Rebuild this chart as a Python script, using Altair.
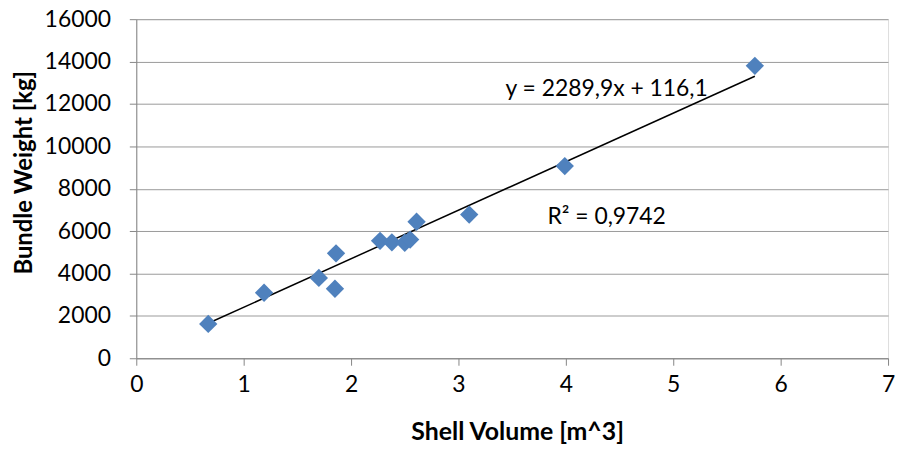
import altair as alt
import pandas as pd

# Data
shell_volume = [0.67, 1.19, 1.70, 1.85, 1.86, 2.27, 2.38, 2.50, 2.55, 2.61, 3.10, 3.99, 5.76]
bundle_weight = [1620, 3090, 3790, 3280, 4950, 5540, 5470, 5450, 5600, 6440, 6780, 9070, 13800]

slope = 2289.9
intercept = 116.1
eq_labels = ["y = 2289,9x + 116,1", "R² = 0,9742"]
eq_x = [4.38, 4.38]
eq_y = [12700, 6650]

x_ticks = [0, 1, 2, 3, 4, 5, 6, 7]
y_ticks = [0, 2000, 4000, 6000, 8000, 10000, 12000, 14000, 16000]

FONT = "Lato"

df = pd.DataFrame({"x": shell_volume, "y": bundle_weight})
xmin, xmax = min(shell_volume), max(shell_volume)
trend = pd.DataFrame({"x": [xmin, xmax], "y": [slope * xmin + intercept, slope * xmax + intercept]})
labels = pd.DataFrame({"x": eq_x, "y": eq_y, "t": eq_labels})

xscale = alt.Scale(domain=[0, 7], nice=False, zero=True)
yscale = alt.Scale(domain=[0, 16000], nice=False)

xaxis = alt.Axis(title="Shell Volume [m^3]", values=x_ticks, format="d", grid=False, tickSize=7,
                 labelFontSize=23, titleFontSize=25, titleFontWeight="bold",
                 labelFont=FONT, titleFont=FONT, labelColor="#000000", titleColor="#000000",
                 domainColor="#868686", tickColor="#868686", labelPadding=8,
                 titleX=383, titleY=74, titleBaseline="middle", titleAlign="center",
                 labelFlush=False)
yaxis = alt.Axis(title="Bundle Weight [kg]", values=y_ticks, format="d", grid=True, gridColor="#9a9a9a",
                 tickSize=7, labelFontSize=23, titleFontSize=24, titleFontWeight="bold",
                 labelFont=FONT, titleFont=FONT, labelColor="#000000", titleColor="#000000",
                 domainColor="#868686", tickColor="#868686", labelPadding=19,
                 titleX=-112, titleY=154, titleBaseline="middle", titleAlign="center",
                 labelFlush=False)

points = alt.Chart(df).mark_point(shape="diamond", filled=True, size=340, color="#4F81BD", opacity=1).encode(
    x=alt.X("x:Q", scale=xscale, axis=xaxis),
    y=alt.Y("y:Q", scale=yscale, axis=yaxis),
)

line = alt.Chart(trend).mark_line(color="#000000", strokeWidth=1.5).encode(
    x=alt.X("x:Q", scale=xscale),
    y=alt.Y("y:Q", scale=yscale),
)

text = alt.Chart(labels).mark_text(fontSize=23, font=FONT, color="#000000", align="center", baseline="middle").encode(
    x=alt.X("x:Q", scale=xscale),
    y=alt.Y("y:Q", scale=yscale),
    text="t:N",
)

chart = alt.layer(line, points, text).properties(
    width=756, height=341,
    autosize=alt.AutoSizeParams(type="none"),
    padding={"left": 129, "top": 10, "right": 7, "bottom": 89},
).configure_view(stroke=None).configure(background="#ffffff")

chart.save("out.html", embed_options={"renderer": "svg", "actions": False})
